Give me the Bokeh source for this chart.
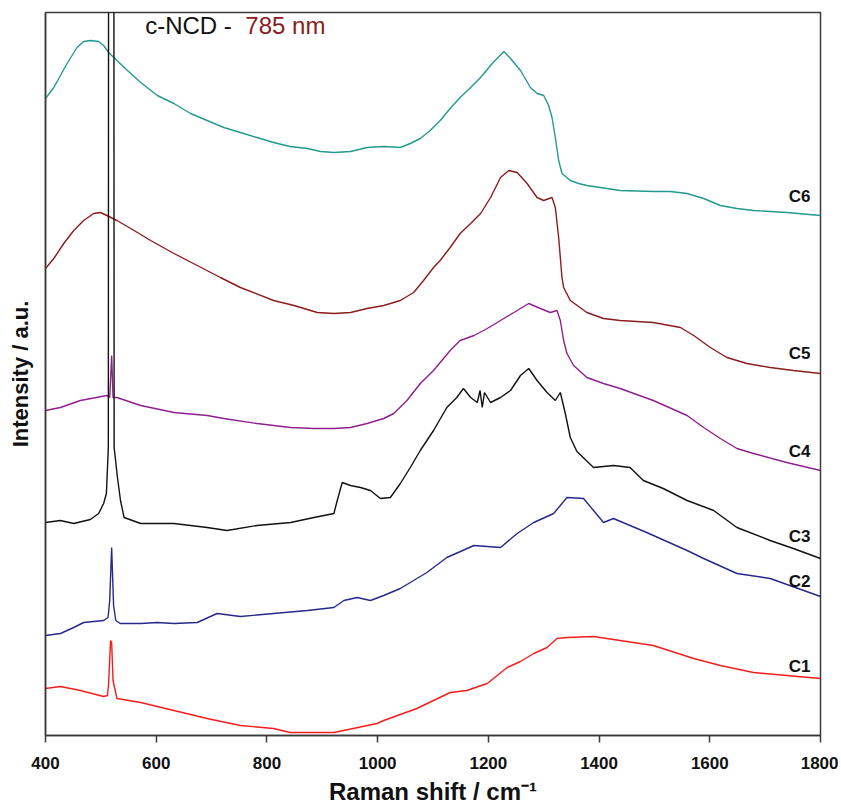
from bokeh.plotting import figure
from bokeh.models import Range1d, FixedTicker, Label
from bokeh.embed import file_html
from bokeh.resources import INLINE

# ---------------- data (Raman shift in cm^-1, intensity in a.u.) ----------------
x_ticks = [400, 600, 800, 1000, 1200, 1400, 1600, 1800]

wn_c1 = [400, 427, 463, 505, 512, 514, 517.5, 519.5, 522, 529, 572, 632, 692, 752, 812, 842, 921,
         999, 1011, 1071, 1131, 1161, 1198, 1234, 1258, 1282, 1306, 1324, 1342, 1390, 1438, 1498,
         1571, 1619, 1679, 1739, 1800]
int_c1 = [47, 49, 45, 39, 40, 52, 95, 93, 55, 37, 33, 25, 17, 10, 7, 3, 3,
          12, 15, 27, 43, 45, 52, 68, 74, 82, 88, 97, 98, 99, 95, 90,
          77, 70, 63, 60, 57]

wn_c2 = [400, 427, 451, 469, 505, 513, 516, 519.5, 523, 527, 535, 572, 602, 632, 674, 710, 752, 812,
         873, 921, 939, 963, 987, 1011, 1041, 1089, 1125, 1174, 1222, 1252, 1282, 1318, 1342, 1372,
         1390, 1408, 1426, 1486, 1559, 1589, 1649, 1709, 1800]
int_c2 = [100, 102, 108, 113, 115, 118, 135, 188, 130, 115, 112, 112, 113, 112, 113, 122, 119, 122,
          125, 128, 135, 138, 135, 140, 147, 163, 178, 190, 188, 202, 213, 222, 238, 237,
          225, 213, 217, 203, 185, 177, 162, 157, 139]

wn_c3 = [400, 427, 451, 481, 496, 505, 510, 513.5, 518.5, 524, 530, 535.5, 542, 572, 632, 692, 728,
         782, 843, 885, 921, 927, 936, 951, 969, 987, 1005, 1023, 1041, 1059, 1077, 1101, 1125,
         1143, 1155, 1168, 1180, 1185, 1189, 1193, 1204, 1222, 1240, 1258, 1273, 1288, 1306, 1321,
         1330, 1339, 1348, 1360, 1390, 1426, 1456, 1480, 1516, 1559, 1607, 1649, 1709, 1751, 1800]
int_c3 = [213, 215, 212, 216, 222, 232, 242, 288, 6000, 288, 258, 235, 218, 212, 212, 208, 205,
          210, 213, 218, 222, 235, 253, 250, 248, 245, 237, 238, 252, 268, 285, 305, 328,
          338, 347, 338, 333, 345, 328, 343, 333, 338, 345, 360, 367, 355, 343, 335,
          343, 322, 298, 284, 268, 270, 268, 255, 247, 235, 225, 208, 195, 187, 177]

wn_c4 = [400, 427, 463, 511, 516, 519.5, 522, 529, 572, 632, 692, 722, 782, 843, 885, 921, 951, 981,
         1011, 1029, 1053, 1077, 1101, 1131, 1149, 1174, 1198, 1222, 1246, 1273, 1294, 1312, 1324,
         1330, 1336, 1342, 1354, 1378, 1408, 1438, 1498, 1559, 1589, 1619, 1649, 1679, 1739, 1800]
int_c4 = [325, 328, 335, 340, 338, 380, 338, 338, 330, 323, 320, 317, 312, 308, 307, 307, 308, 312,
          317, 322, 335, 352, 365, 385, 395, 400, 407, 415, 423, 432, 427, 423, 425,
          415, 395, 382, 370, 358, 352, 347, 335, 320, 308, 297, 287, 282, 273, 265]

wn_c5 = [400, 415, 433, 451, 469, 487, 499, 511, 529, 554, 590, 632, 674, 716, 752, 812, 849, 891,
         921, 951, 981, 1011, 1041, 1065, 1083, 1101, 1113, 1131, 1149, 1168, 1186, 1204, 1222,
         1237, 1252, 1270, 1288, 1300, 1315, 1321, 1327, 1333, 1336, 1348, 1378, 1408, 1438, 1498,
         1547, 1571, 1601, 1631, 1667, 1709, 1751, 1800]
int_c5 = [467, 477, 492, 505, 515, 522, 523, 520, 515, 507, 495, 482, 470, 458, 448, 435, 430, 423,
          422, 423, 427, 430, 435, 443, 455, 468, 475, 488, 502, 512, 522, 538, 558,
          565, 563, 552, 538, 535, 538, 528, 498, 458, 448, 435, 423, 417, 415, 413,
          408, 400, 388, 378, 372, 368, 365, 362]

wn_c6 = [400, 415, 439, 457, 469, 481, 496, 505, 514, 529, 548, 572, 602, 632, 662, 692, 722, 752,
         782, 812, 842, 873, 897, 921, 951, 981, 1011, 1041, 1059, 1077, 1095, 1113, 1131, 1149,
         1168, 1186, 1207, 1228, 1240, 1258, 1276, 1288, 1300, 1309, 1315, 1321, 1327, 1333, 1348,
         1363, 1378, 1438, 1498, 1529, 1559, 1589, 1619, 1649, 1679, 1739, 1800]
int_c6 = [637, 648, 672, 688, 694, 695, 694, 690, 683, 675, 665, 653, 640, 632, 622, 615, 608, 603,
          598, 593, 589, 587, 584, 583, 584, 588, 589, 588, 592, 597, 605, 615, 627, 638,
          648, 658, 672, 684, 677, 665, 648, 642, 640, 630, 618, 598, 575, 562, 555,
          552, 550, 545, 544, 544, 542, 537, 530, 527, 525, 523, 520]

names = ["C1", "C2", "C3", "C4", "C5", "C6"]
colors = ["#f41c1c", "#26288a", "#111111", "#8e1f8e", "#8b1c1c", "#23998f"]
label_offsets = [12, 15, 22, 19, 20, 19]

series = [(wn_c1, int_c1), (wn_c2, int_c2), (wn_c3, int_c3),
          (wn_c4, int_c4), (wn_c5, int_c5), (wn_c6, int_c6)]

FONT = "Liberation Sans"

p = figure(width=838, height=809, output_backend="svg", toolbar_location=None,
           x_range=Range1d(400, 1800), y_range=Range1d(0, 723),
           min_border_left=45, min_border_right=18, min_border_top=12, min_border_bottom=74)
p.xgrid.visible = False
p.ygrid.visible = False
p.outline_line_color = "#3a3a3a"
p.outline_line_width = 1.5
p.outline_line_alpha = 1.0

xa = p.xaxis[0]
xa.ticker = FixedTicker(ticks=x_ticks)
xa.major_tick_out = 7
xa.major_tick_in = 0
xa.minor_tick_out = 0
xa.minor_tick_in = 0
xa.axis_line_color = "#3a3a3a"
xa.axis_line_width = 1.5
xa.major_tick_line_color = "#3a3a3a"
xa.major_tick_line_width = 1.5
xa.major_label_text_font = FONT
xa.major_label_text_font_style = "bold"
xa.major_label_text_font_size = "17px"
xa.major_label_text_color = "#111111"
xa.major_label_standoff = 14
xa.axis_label = "Raman shift / cm\u207b\u00b9"
xa.axis_label_text_font = FONT
xa.axis_label_text_font_style = "bold"
xa.axis_label_text_font_size = "24px"
xa.axis_label_text_color = "#111111"
xa.axis_label_standoff = 6

ya = p.yaxis[0]
ya.ticker = FixedTicker(ticks=[])
ya.major_tick_out = 0
ya.major_tick_in = 0
ya.minor_tick_out = 0
ya.minor_tick_in = 0
ya.major_label_text_font_size = "0px"
ya.axis_line_color = "#3a3a3a"
ya.axis_line_width = 1.5
ya.axis_label = "Intensity / a.u."
ya.axis_label_text_font = FONT
ya.axis_label_text_font_style = "bold"
ya.axis_label_text_font_size = "22px"
ya.axis_label_text_color = "#111111"
ya.axis_label_standoff = 13

order = [5, 4, 3, 1, 0, 2]
for i in order:
    xs, ys = series[i]
    p.line(xs, ys, line_color=colors[i], line_width=1.4)

for i, name in enumerate(names):
    xs, ys = series[i]
    p.add_layout(Label(x=1782, y=ys[-1] + label_offsets[i], text=name,
                       text_align="right", text_baseline="middle",
                       text_font=FONT, text_font_style="bold",
                       text_font_size="17px", text_color="#111111"))

p.add_layout(Label(x=580, y=710, text="c-NCD -", text_align="left", text_baseline="middle",
                   text_font=FONT, text_font_size="24px", text_color="#111111"))
p.add_layout(Label(x=761, y=710, text="785 nm", text_align="left", text_baseline="middle",
                   text_font=FONT, text_font_size="24px", text_color="#8b1c1c"))

open("out.html", "w").write(file_html(p, INLINE))
